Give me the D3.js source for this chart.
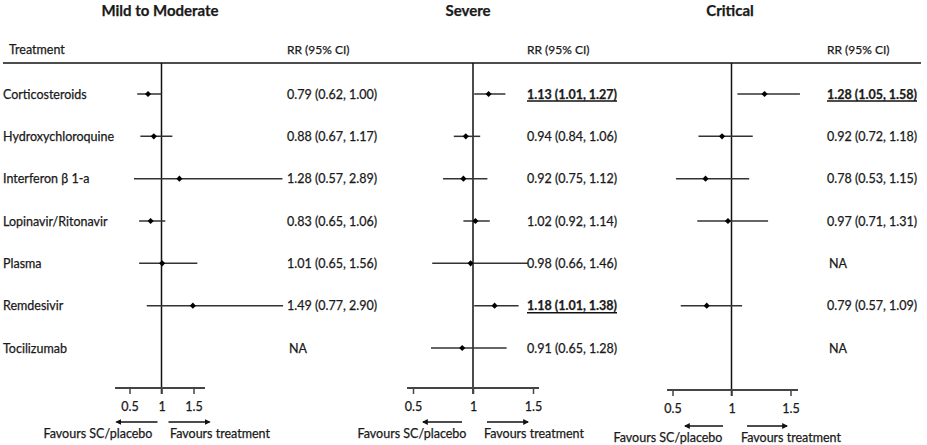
<!DOCTYPE html>
<html>
<head>
<meta charset="utf-8">
<script src="https://cdn.jsdelivr.net/npm/d3@7"></script>
<style>
  body { margin: 0; background: #fff; }
  svg text { font-family: Lato, "Open Sans", sans-serif; fill: #1a1a1a; stroke: #1a1a1a; stroke-width: 0.25; }
</style>
</head>
<body>
<div id="chart"></div>
<script>
var svgWidth = 927;
var svgHeight = 445;

// data
var treatments = ["Corticosteroids", "Hydroxychloroquine", "Interferon \u03b2 1-a",
  "Lopinavir/Ritonavir", "Plasma", "Remdesivir", "Tocilizumab"];
var panelTitles = ["Mild to Moderate", "Severe", "Critical"];
var tickValues = [0.5, 1, 1.5];

var mildRR = [0.79, 0.88, 1.28, 0.83, 1.01, 1.49, null];
var mildLo = [0.62, 0.67, 0.57, 0.65, 0.65, 0.77, null];
var mildHi = [1.00, 1.17, 2.89, 1.06, 1.56, 2.90, null];
var mildSig = [false, false, false, false, false, false, false];

var severeRR = [1.13, 0.94, 0.92, 1.02, 0.98, 1.18, 0.91];
var severeLo = [1.01, 0.84, 0.75, 0.92, 0.66, 1.01, 0.65];
var severeHi = [1.27, 1.06, 1.12, 1.14, 1.46, 1.38, 1.28];
var severeSig = [true, false, false, false, false, true, false];

var criticalRR = [1.28, 0.92, 0.78, 0.97, null, 0.79, null];
var criticalLo = [1.05, 0.72, 0.53, 0.71, null, 0.57, null];
var criticalHi = [1.58, 1.18, 1.15, 1.31, null, 1.09, null];
var criticalSig = [true, false, false, false, false, false, false];

// layout for each panel (pixels)
var panels = [
  { rr: mildRR, lo: mildLo, hi: mildHi, sig: mildSig,
    range: [129.5, 193.5], axisExt: [115, 205], axisY: 388, textX: 287, titleX: 160,
    arrowL: [157.5, 116.5], arrowR: [168.5, 209.5], arrowY: 422, favL: 98, favR: 220 },
  { rr: severeRR, lo: severeLo, hi: severeHi, sig: severeSig,
    range: [413, 533], axisExt: [407, 539], axisY: 388, textX: 527, titleX: 468,
    arrowL: [462, 423], arrowR: [487, 528], arrowY: 422, favL: 412, favR: 534 },
  { rr: criticalRR, lo: criticalLo, hi: criticalHi, sig: criticalSig,
    range: [672.5, 790.5], axisExt: [667, 798], axisY: 390, textX: 827, titleX: 730,
    arrowL: [723, 685], arrowR: [747, 787], arrowY: 426, favL: 668, favR: 791 }
];

var svg = d3.select("#chart")
  .append("svg")
  .attr("width", svgWidth)
  .attr("height", svgHeight);

svg.append("defs").append("marker")
  .attr("id", "arrow")
  .attr("viewBox", "0 0 10 10")
  .attr("refX", 8)
  .attr("refY", 5)
  .attr("markerWidth", 4)
  .attr("markerHeight", 4)
  .attr("orient", "auto")
  .append("path")
  .attr("d", "M0,0 L10,5 L0,10 z")
  .attr("fill", "#111");

var yScale = d3.scalePoint()
  .domain(treatments)
  .range([94, 348]);

var f2 = d3.format(".2f");
function rrLabel(rr, lo, hi) {
  if (rr == null) return "NA";
  return f2(rr) + " (" + f2(lo) + ", " + f2(hi) + ")";
}

// column headers and top rule
svg.append("text")
  .attr("x", 9)
  .attr("y", 54)
  .attr("font-size", 12.5)
  .text("Treatment");

svg.append("line")
  .attr("x1", 3).attr("x2", 921)
  .attr("y1", 63).attr("y2", 63)
  .attr("stroke", "#111")
  .attr("stroke-width", 1.5);

// treatment names
svg.append("g")
  .selectAll("text")
  .data(treatments)
  .enter()
  .append("text")
  .attr("x", 3)
  .attr("y", d => yScale(d) + 4.5)
  .attr("font-size", 12.5)
  .text(d => d);

var diamond = d3.symbol().type(d3.symbolDiamond2).size(24);

panels.forEach(function(p, i) {
  var x = d3.scaleLinear().domain([0.5, 1.5]).range(p.range);
  var g = svg.append("g");

  g.append("text")
    .attr("x", p.titleX)
    .attr("y", 16)
    .attr("text-anchor", "middle")
    .attr("font-size", 15)
    .attr("font-weight", "bold")
    .text(panelTitles[i]);

  g.append("text")
    .attr("x", p.textX)
    .attr("y", 54)
    .attr("font-size", 12)
    .text("RR (95% CI)");

  // reference line at 1
  g.append("line")
    .attr("x1", x(1)).attr("x2", x(1))
    .attr("y1", 63).attr("y2", p.axisY + 6)
    .attr("stroke", "#111")
    .attr("stroke-width", 1.5);

  // x axis
  g.append("line")
    .attr("x1", p.axisExt[0]).attr("x2", p.axisExt[1])
    .attr("y1", p.axisY).attr("y2", p.axisY)
    .attr("stroke", "#444")
    .attr("stroke-width", 2);

  var axis = g.append("g")
    .attr("transform", `translate(0, ${p.axisY})`)
    .call(d3.axisBottom(x).tickValues(tickValues).tickSize(6).tickFormat(d => String(d)));
  axis.select(".domain").remove();
  axis.selectAll(".tick line").attr("stroke", "#444").attr("stroke-width", 1.5);
  axis.selectAll(".tick text")
    .attr("font-size", 12.5)
    .attr("font-family", "Lato, 'Open Sans', sans-serif")
    .attr("fill", "#1a1a1a")
    .attr("dy", "1.1em");

  // favours arrows
  [p.arrowL, p.arrowR].forEach(function(a) {
    g.append("line")
      .attr("x1", a[0]).attr("x2", a[1])
      .attr("y1", p.arrowY).attr("y2", p.arrowY)
      .attr("stroke", "#111")
      .attr("stroke-width", 1.5)
      .attr("marker-end", "url(#arrow)");
  });
  g.append("text")
    .attr("x", p.favL).attr("y", p.arrowY + 16)
    .attr("text-anchor", "middle")
    .attr("font-size", 12.5)
    .text("Favours SC/placebo");
  g.append("text")
    .attr("x", p.favR).attr("y", p.arrowY + 16)
    .attr("text-anchor", "middle")
    .attr("font-size", 12.5)
    .text("Favours treatment");

  var rows = treatments.map(function(t, j) {
    return { t: t, rr: p.rr[j], lo: p.lo[j], hi: p.hi[j], sig: p.sig[j] };
  });
  var est = rows.filter(d => d.rr != null);

  // CI lines
  g.selectAll(".ci")
    .data(est)
    .enter()
    .append("line")
    .attr("class", "ci")
    .attr("x1", d => x(d.lo))
    .attr("x2", d => x(d.hi))
    .attr("y1", d => yScale(d.t))
    .attr("y2", d => yScale(d.t))
    .attr("stroke", "#333")
    .attr("stroke-width", 1.5);

  g.selectAll(".pt")
    .data(est)
    .enter()
    .append("path")
    .attr("class", "pt")
    .attr("d", diamond)
    .attr("transform", d => `translate(${x(d.rr)}, ${yScale(d.t)})`)
    .attr("fill", "#000");

  // RR labels
  var labels = g.selectAll(".lab")
    .data(rows)
    .enter()
    .append("text")
    .attr("class", "lab")
    .attr("x", d => d.rr == null ? p.textX + 2 : p.textX)
    .attr("y", d => yScale(d.t) + 4.5)
    .attr("font-size", 12.5)
    .attr("font-weight", d => d.sig ? "bold" : "normal")
    .text(d => rrLabel(d.rr, d.lo, d.hi));

  labels.filter(d => d.sig).each(function(d) {
    var w = this.getComputedTextLength();
    g.append("line")
      .attr("x1", p.textX).attr("x2", p.textX + w)
      .attr("y1", yScale(d.t) + 7).attr("y2", yScale(d.t) + 7)
      .attr("stroke", "#111")
      .attr("stroke-width", 1.5);
  });
});
</script>
</body>
</html>
